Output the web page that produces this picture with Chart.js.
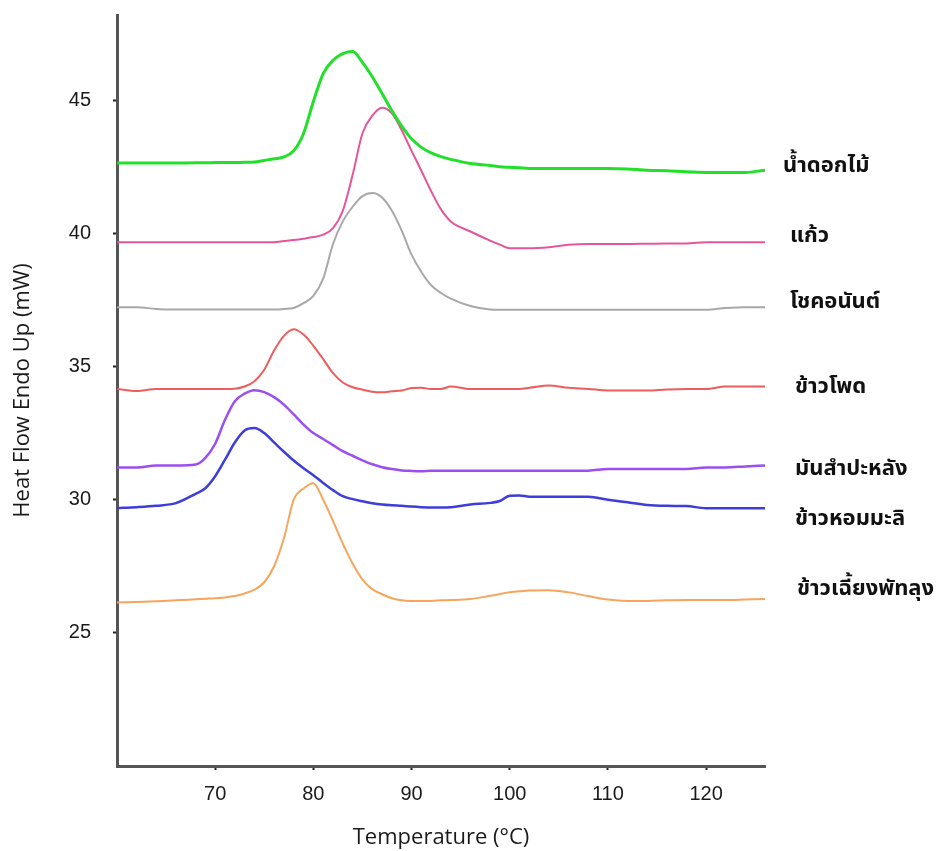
<!DOCTYPE html>
<html>
<head>
<meta charset="utf-8">
<script src="https://cdn.jsdelivr.net/npm/chart.js@4.4.0/dist/chart.umd.min.js"></script>
<style>
  body { margin: 0; background: #fff; }
  #wrap { width: 951px; height: 851px; }
</style>
</head>
<body>
<div id="wrap"><canvas id="dscChart"></canvas></div>
<script>
// --- data ---
const temps = [60, 62, 64, 66, 68, 69, 70, 71, 72, 73, 74, 75, 76, 77, 78, 79, 80, 81, 82, 83, 84, 85, 86, 87, 88, 89, 90, 91, 92, 93, 94, 96, 98, 99, 100, 101, 102, 104, 106, 108, 110, 112, 114, 116, 118, 120, 122, 124, 126];

const namDokMai = [42.64, 42.64, 42.64, 42.64, 42.65, 42.65, 42.66, 42.66, 42.66, 42.67, 42.68, 42.74, 42.8, 42.87, 43.1, 43.75, 44.95, 46.0, 46.5, 46.75, 46.83, 46.42, 45.88, 45.25, 44.6, 44.03, 43.55, 43.23, 43.02, 42.88, 42.78, 42.62, 42.55, 42.5, 42.48, 42.46, 42.44, 42.44, 42.44, 42.44, 42.44, 42.42, 42.37, 42.35, 42.31, 42.29, 42.29, 42.29, 42.37];
const kaeo = [39.67, 39.67, 39.67, 39.67, 39.67, 39.67, 39.67, 39.67, 39.67, 39.67, 39.67, 39.67, 39.67, 39.71, 39.75, 39.8, 39.86, 39.95, 40.2, 40.85, 42.2, 43.76, 44.42, 44.72, 44.51, 43.87, 43.1, 42.35, 41.58, 40.9, 40.45, 40.07, 39.73, 39.58, 39.44, 39.44, 39.44, 39.48, 39.57, 39.6, 39.6, 39.6, 39.61, 39.62, 39.62, 39.67, 39.67, 39.67, 39.67];
const chokAnan = [37.23, 37.23, 37.16, 37.14, 37.14, 37.14, 37.14, 37.14, 37.14, 37.14, 37.14, 37.14, 37.14, 37.16, 37.2, 37.38, 37.65, 38.3, 39.6, 40.45, 41.0, 41.4, 41.52, 41.35, 40.85, 40.1, 39.2, 38.55, 38.05, 37.76, 37.55, 37.27, 37.14, 37.13, 37.13, 37.13, 37.13, 37.13, 37.13, 37.13, 37.13, 37.13, 37.13, 37.13, 37.13, 37.13, 37.2, 37.23, 37.23];
const khaoPhot = [34.16, 34.08, 34.16, 34.16, 34.16, 34.16, 34.16, 34.16, 34.17, 34.25, 34.45, 34.88, 35.6, 36.15, 36.4, 36.2, 35.78, 35.28, 34.75, 34.4, 34.22, 34.13, 34.05, 34.03, 34.07, 34.1, 34.19, 34.2, 34.16, 34.16, 34.25, 34.16, 34.16, 34.16, 34.16, 34.16, 34.2, 34.29, 34.2, 34.16, 34.1, 34.1, 34.1, 34.14, 34.16, 34.16, 34.25, 34.25, 34.25];
const mansampalang = [31.21, 31.21, 31.28, 31.28, 31.32, 31.57, 32.1, 33.0, 33.7, 33.98, 34.11, 34.04, 33.85, 33.57, 33.2, 32.82, 32.5, 32.28, 32.05, 31.82, 31.65, 31.48, 31.33, 31.22, 31.15, 31.1, 31.08, 31.07, 31.09, 31.09, 31.09, 31.09, 31.09, 31.09, 31.09, 31.09, 31.09, 31.09, 31.09, 31.09, 31.15, 31.15, 31.15, 31.15, 31.15, 31.21, 31.21, 31.25, 31.28];
const khaoHomMali = [29.69, 29.72, 29.77, 29.87, 30.22, 30.43, 30.88, 31.5, 32.15, 32.6, 32.69, 32.5, 32.15, 31.8, 31.47, 31.18, 30.92, 30.63, 30.36, 30.13, 30.02, 29.94, 29.87, 29.82, 29.79, 29.77, 29.74, 29.72, 29.71, 29.71, 29.72, 29.82, 29.88, 29.95, 30.15, 30.16, 30.11, 30.11, 30.11, 30.11, 30.0, 29.9, 29.8, 29.77, 29.76, 29.68, 29.68, 29.68, 29.68];
const khaoChiangPhatthalung = [26.14, 26.16, 26.19, 26.22, 26.26, 26.28, 26.3, 26.33, 26.38, 26.48, 26.62, 26.9, 27.5, 28.55, 30.0, 30.42, 30.62, 30.0, 29.2, 28.35, 27.6, 27.0, 26.64, 26.45, 26.3, 26.22, 26.2, 26.2, 26.2, 26.22, 26.23, 26.27, 26.39, 26.46, 26.52, 26.56, 26.59, 26.6, 26.52, 26.38, 26.25, 26.2, 26.2, 26.22, 26.23, 26.23, 26.23, 26.25, 26.27];

const seriesNames = ['น้ำดอกไม้', 'แก้ว', 'โชคอนันต์', 'ข้าวโพด', 'มันสำปะหลัง', 'ข้าวหอมมะลิ', 'ข้าวเฉี้ยงพัทลุง'];
const xTicks = [70, 80, 90, 100, 110, 120];
const yTicks = [25, 30, 35, 40, 45];

const seriesValues = [namDokMai, kaeo, chokAnan, khaoPhot, mansampalang, khaoHomMali, khaoChiangPhatthalung];
const colors = ['#22e02a', '#e6559c', '#a8a8a8', '#ee5c5c', '#9b4ff0', '#3d3ddb', '#f5a55c'];
const widths = [3, 2, 2, 2, 2.5, 2.5, 2];
// pixel nudges for the end labels so they sit like the original
const labelShift = [-3, -5, -4, 2, 5, 12, -8];
const labelGap = [18, 25, 25, 30, 30, 30, 32];

const endLabels = {
  id: 'endLabels',
  afterDatasetsDraw(chart) {
    const { ctx } = chart;
    ctx.save();
    ctx.font = 'bold 22px Tahoma, "Noto Sans Thai", "Noto Sans", sans-serif';
    ctx.fillStyle = '#111';
    ctx.textBaseline = 'middle';
    ctx.textAlign = 'left';
    chart.data.datasets.forEach((ds, i) => {
      const meta = chart.getDatasetMeta(i);
      const last = meta.data[meta.data.length - 1];
      ctx.fillText(ds.label, chart.chartArea.right + labelGap[i], last.y + labelShift[i]);
    });
    ctx.restore();
  }
};

const ctx = document.getElementById('dscChart');

new Chart(ctx, {
  type: 'line',
  data: {
    datasets: seriesValues.map((vals, i) => ({
      label: seriesNames[i],
      data: temps.map((t, j) => ({ x: t, y: vals[j] })),
      borderColor: colors[i],
      borderWidth: widths[i],
      pointRadius: 0,
      fill: false,
      tension: 0.4,
      cubicInterpolationMode: 'monotone'
    }))
  },
  options: {
    responsive: true,
    maintainAspectRatio: false,
    animation: false,
    layout: {
      padding: { top: 15, right: 186, bottom: 0, left: 0 }
    },
    plugins: {
      legend: { display: false },
      tooltip: { enabled: false }
    },
    scales: {
      x: {
        type: 'linear',
        min: 60,
        max: 126,
        afterBuildTicks: (scale) => { scale.ticks = xTicks.map(v => ({ value: v })); },
        afterFit: (scale) => { scale.height = 85; scale.paddingLeft = 0; scale.paddingRight = 0; },
        border: { color: '#555', width: 3 },
        grid: { drawOnChartArea: false, drawTicks: true, tickLength: 4, tickColor: '#222', tickWidth: 2 },
        ticks: {
          color: '#1a1a1a',
          padding: 12,
          autoSkip: false,
          maxRotation: 0,
          font: { family: "'Liberation Sans', Arial, sans-serif", size: 20 }
        },
        title: {
          display: true,
          text: 'Temperature (°C)',
          color: '#1a1a1a',
          padding: { top: 0, bottom: 0 },
          font: { family: "'Open Sans', sans-serif", size: 22 }
        }
      },
      y: {
        min: 20,
        max: 48.2,
        afterBuildTicks: (scale) => { scale.ticks = yTicks.map(v => ({ value: v })); },
        afterFit: (scale) => { scale.width = 117; scale.paddingTop = 0; scale.paddingBottom = 0; },
        border: { color: '#555', width: 3 },
        grid: { drawOnChartArea: false, drawTicks: true, tickLength: 4, tickColor: '#222', tickWidth: 2 },
        ticks: {
          color: '#1a1a1a',
          padding: 22,
          font: { family: "'Liberation Sans', Arial, sans-serif", size: 20 }
        },
        title: {
          display: true,
          text: 'Heat Flow Endo Up (mW)',
          color: '#1a1a1a',
          padding: { top: 10, bottom: 0 },
          font: { family: "'Open Sans', sans-serif", size: 22 }
        }
      }
    }
  },
  plugins: [endLabels]
});
</script>
</body>
</html>
